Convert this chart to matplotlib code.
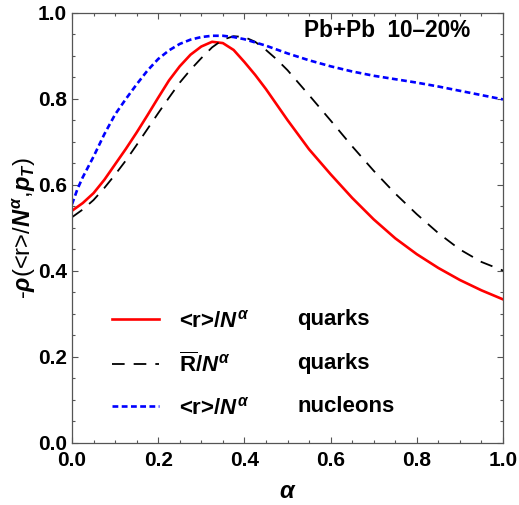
import numpy as np
import matplotlib
matplotlib.use("Agg")
import matplotlib.pyplot as plt

plt.rcParams['font.family'] = ['Liberation Sans', 'DejaVu Sans']
plt.rcParams['font.weight'] = 'bold'
plt.rcParams['mathtext.fontset'] = 'custom'
plt.rcParams['mathtext.rm'] = 'Liberation Sans:bold'
plt.rcParams['mathtext.it'] = 'Liberation Sans:bold:italic'
plt.rcParams['mathtext.bf'] = 'Liberation Sans:bold'

# <r>/N^alpha, quarks (red solid)
alpha_red = [0.000, 0.025, 0.050, 0.075, 0.100, 0.125, 0.150, 0.175, 0.200, 0.225,
             0.250, 0.275, 0.300, 0.325, 0.350, 0.375, 0.400, 0.425, 0.450, 0.475,
             0.500, 0.550, 0.600, 0.650, 0.700, 0.750, 0.800, 0.850, 0.900, 0.950, 1.000]
rho_red = [0.540, 0.558, 0.581, 0.612, 0.648, 0.684, 0.722, 0.762, 0.803, 0.843,
           0.876, 0.903, 0.922, 0.933, 0.930, 0.914, 0.886, 0.856, 0.823, 0.787,
           0.751, 0.683, 0.625, 0.570, 0.520, 0.476, 0.439, 0.407, 0.379, 0.355, 0.334]

# Rbar/N^alpha, quarks (black dashed)
alpha_blk = [0.000, 0.025, 0.050, 0.075, 0.100, 0.125, 0.150, 0.175, 0.200, 0.225,
             0.250, 0.275, 0.300, 0.325, 0.350, 0.375, 0.400, 0.425, 0.450, 0.475,
             0.500, 0.550, 0.600, 0.650, 0.700, 0.750, 0.800, 0.850, 0.900, 0.950, 1.000]
rho_blk = [0.525, 0.543, 0.565, 0.593, 0.624, 0.657, 0.693, 0.730, 0.767, 0.803,
           0.838, 0.868, 0.895, 0.920, 0.938, 0.946, 0.944, 0.933, 0.914, 0.892,
           0.867, 0.809, 0.750, 0.690, 0.633, 0.580, 0.532, 0.488, 0.450, 0.421, 0.401]

# <r>/N^alpha, nucleons (blue dotted)
alpha_blu = [0.000, 0.0125, 0.025, 0.050, 0.075, 0.100, 0.125, 0.150, 0.175, 0.200,
             0.225, 0.250, 0.275, 0.300, 0.325, 0.350, 0.375, 0.400, 0.450, 0.500,
             0.550, 0.600, 0.650, 0.700, 0.750, 0.800, 0.850, 0.900, 0.950, 1.000]
rho_blu = [0.555, 0.590, 0.618, 0.666, 0.718, 0.764, 0.800, 0.834, 0.866, 0.893,
           0.913, 0.928, 0.938, 0.944, 0.947, 0.947, 0.944, 0.939, 0.924, 0.906,
           0.890, 0.876, 0.864, 0.854, 0.846, 0.838, 0.829, 0.819, 0.809, 0.799]

names = [r'<r>/$N^{\alpha}$', r'$\overline{\mathrm{R}}$/$N^{\alpha}$', r'<r>/$N^{\alpha}$']
kinds = ['quarks', 'quarks', 'nucleons']

fig = plt.figure(figsize=(5.19, 5.05), dpi=100)
ax = fig.add_axes([0.1387, 0.1228, 0.8305, 0.8515])

l1, = ax.plot(alpha_red, rho_red, color='#ff0000', lw=1.9)
l2, = ax.plot(alpha_blk, rho_blk, color='black', lw=1.3, dashes=(7, 5))
l3, = ax.plot(alpha_blu, rho_blu, color='#0000ff', lw=1.9, dashes=(2.2, 1.3))

ax.set_xlim(0, 1)
ax.set_ylim(0, 1)
ax.set_xticks(np.arange(0, 1.01, 0.2))
ax.set_yticks(np.arange(0, 1.01, 0.2))
ax.set_xticks(np.arange(0, 1.01, 0.05), minor=True)
ax.set_yticks(np.arange(0, 1.01, 0.05), minor=True)
ax.tick_params(which='both', direction='in', top=True, right=True,
               color='#555555', width=0.8, labelsize=15)
ax.tick_params(which='major', length=4.5)
ax.tick_params(axis='x', which='major', pad=6)
ax.tick_params(which='minor', length=2.5)
for s in ax.spines.values():
    s.set_color('#555555')
    s.set_linewidth(0.9)

ax.set_xlabel(r'$\alpha$', fontsize=17, labelpad=8)
ax.set_ylabel(r'-$\rho$(<r>/$N^{\alpha}$,$p_T$)', fontsize=17, labelpad=0)

ax.text(0.925, 0.985, 'Pb+Pb  10\u201320%', transform=ax.transAxes,
        ha='right', va='top', fontsize=16.3, fontweight='bold')

leg = ax.legend([l1, l2, l3], names, loc='upper left', bbox_to_anchor=(0.073, 0.33),
                frameon=False, fontsize=16, handlelength=2.1, handletextpad=0.9,
                labelspacing=0.91, borderaxespad=0)

# second column of the legend, aligned row by row with the first one
fig.canvas.draw()
renderer = fig.canvas.get_renderer()
inv = ax.transAxes.inverted()
x_kind = (297 - 72) / 431.0
for line, k in zip(leg.get_lines(), kinds):
    bb = line.get_window_extent(renderer)
    yc = inv.transform((0, (bb.y0 + bb.y1) / 2))[1]
    ax.text(x_kind, yc, k, transform=ax.transAxes, ha='left', va='center',
            fontsize=16, fontweight='bold')

fig.savefig('out.png', dpi=100)
